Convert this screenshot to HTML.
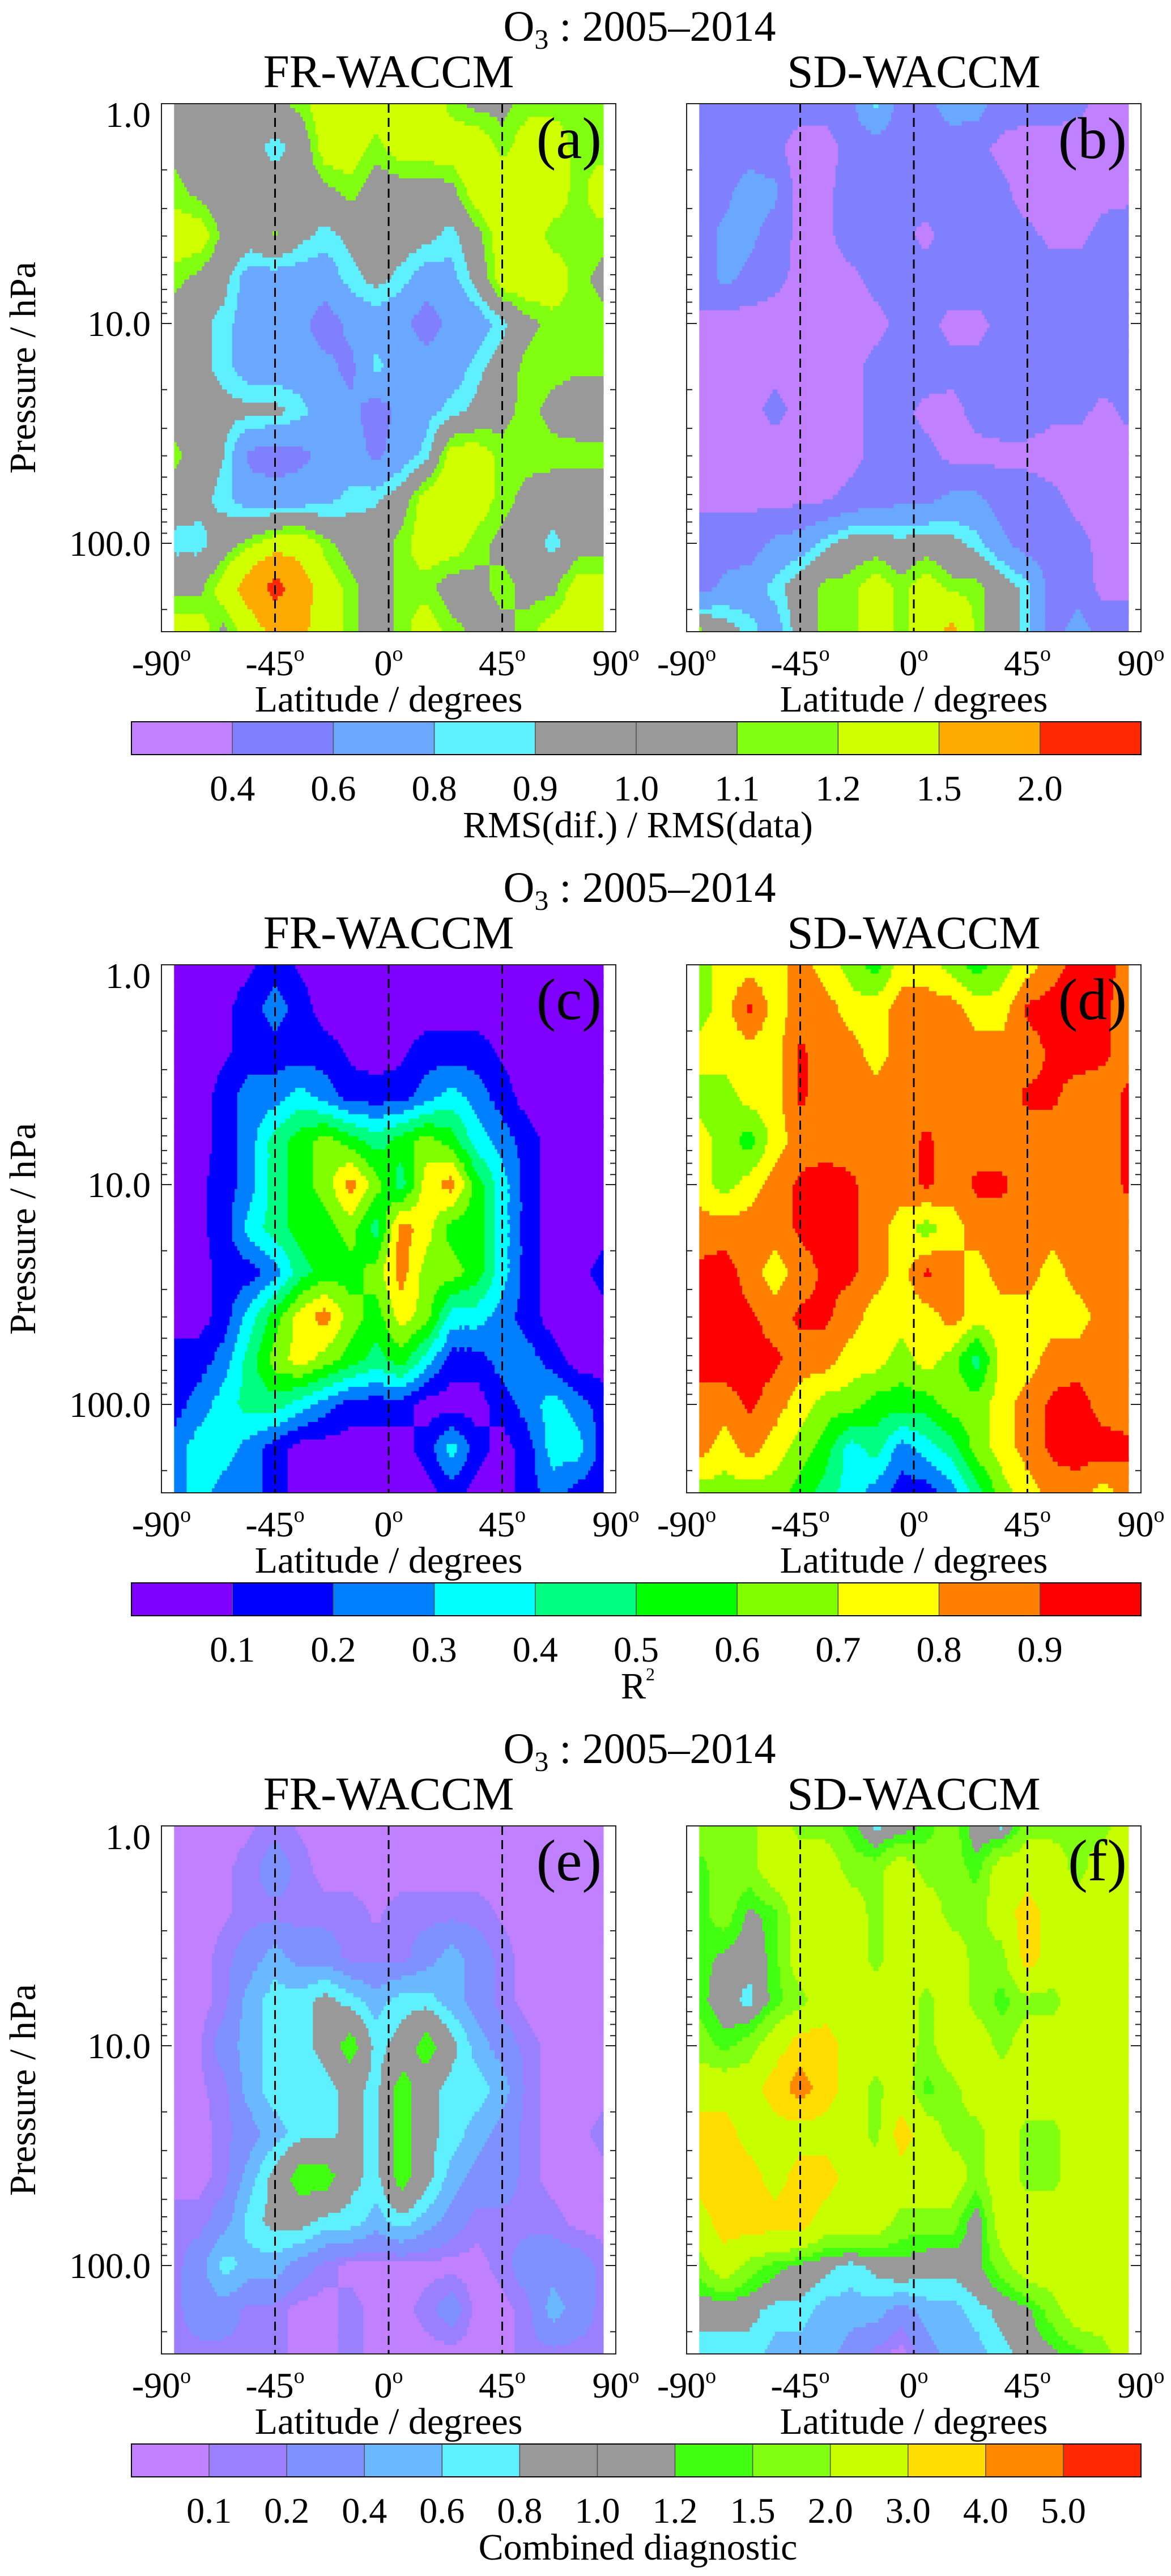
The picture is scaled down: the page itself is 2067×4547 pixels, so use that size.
<!DOCTYPE html>
<html><head><meta charset="utf-8"><title>O3 diagnostics 2005–2014</title>
<style>
html,body{margin:0;padding:0;background:#fff;}
svg{display:block;font-family:"Liberation Serif","DejaVu Serif",serif;}
</style></head>
<body>
<svg id="fig" xmlns="http://www.w3.org/2000/svg" width="2067" height="4547" viewBox="0 0 2067 4547">
<rect x="0" y="0" width="2067" height="4547" fill="#ffffff"/>
</svg>
<script>
const latitudes=[-85,-75,-65,-55,-45,-35,-25,-15,-5,5,15,25,35,45,55,65,75,85];
const pressures=[1,1.585,2.512,3.981,6.31,10,15.85,25.12,39.81,63.1,100,158.5,252];
const latTicks=[-90,-45,0,45,90];
const dashLats=[-45,0,45];
const pressureTicks=[1,10,100];
const pressureTickLabels=["1.0","10.0","100.0"];
const rmsLevels=[0.4,0.6,0.8,0.9,1.0,1.1,1.2,1.5,2.0];
const r2Levels=[0.1,0.2,0.3,0.4,0.5,0.6,0.7,0.8,0.9];
const combLevels=[0.1,0.2,0.4,0.6,0.8,1.0,1.2,1.5,2.0,3.0,4.0,5.0];

const gridA=[
[1.05,1.05,1.05,1.05,1.05,1.15,1.3,1.35,1.3,1.35,1.35,1.15,1.05,1.05,1.15,1.15,1.15,1.15],
[1.05,1.0,1.0,0.95,0.85,0.95,1.3,1.3,1.15,1.3,1.3,1.3,1.35,1.15,1.3,1.3,1.15,1.15],
[1.15,1.05,1.0,1.0,1.0,1.0,1.05,1.15,1.0,1.0,1.0,1.05,1.3,1.35,1.3,1.3,1.15,1.3],
[1.3,1.3,1.05,1.0,1.12,0.95,0.85,0.95,1.0,1.0,0.95,0.85,1.05,1.3,1.3,1.15,1.15,1.15],
[1.15,1.05,0.95,0.7,0.7,0.7,0.7,0.85,0.95,0.85,0.7,0.75,0.95,1.3,1.35,1.3,1.15,1.05],
[1.0,0.95,0.85,0.7,0.7,0.65,0.5,0.65,0.7,0.65,0.5,0.65,0.7,0.85,1.05,1.15,1.15,1.15],
[1.0,0.95,0.85,0.7,0.7,0.7,0.65,0.55,0.85,0.7,0.7,0.7,0.85,1.0,1.15,1.15,1.12,1.12],
[1.0,1.0,0.95,0.95,0.95,0.85,0.7,0.65,0.5,0.65,0.75,0.85,0.95,1.05,1.15,1.05,1.0,1.0],
[1.15,1.0,0.9,0.55,0.5,0.55,0.65,0.7,0.55,0.7,0.85,1.3,1.3,1.15,1.15,1.15,1.15,1.15],
[1.0,0.95,0.85,0.7,0.7,0.7,0.75,0.85,0.88,1.0,1.3,1.35,1.3,1.15,1.05,1.0,1.0,1.0],
[0.85,0.85,1.0,1.15,1.3,1.35,1.15,1.0,1.0,1.15,1.3,1.3,1.15,1.05,1.0,0.85,1.0,1.0],
[1.05,1.05,1.3,1.7,2.2,1.7,1.3,1.15,1.0,1.15,1.15,1.0,1.05,1.15,1.05,1.05,1.3,1.3],
[1.3,1.3,1.05,1.3,1.6,1.6,1.3,1.15,1.0,1.15,1.3,1.15,1.05,1.05,1.15,1.3,1.3,1.3]];

const gridB=[
[0.5,0.5,0.5,0.5,0.5,0.5,0.55,0.85,0.5,0.55,0.7,0.7,0.5,0.5,0.5,0.45,0.35,0.35],
[0.5,0.5,0.5,0.45,0.3,0.3,0.5,0.5,0.5,0.5,0.5,0.45,0.35,0.3,0.3,0.3,0.3,0.3],
[0.5,0.55,0.7,0.65,0.3,0.35,0.5,0.5,0.45,0.5,0.5,0.5,0.45,0.3,0.3,0.3,0.35,0.35],
[0.5,0.65,0.65,0.5,0.35,0.35,0.5,0.5,0.45,0.35,0.5,0.5,0.5,0.45,0.35,0.35,0.45,0.5],
[0.5,0.65,0.55,0.45,0.35,0.3,0.35,0.45,0.5,0.5,0.5,0.5,0.5,0.5,0.5,0.5,0.5,0.5],
[0.35,0.3,0.3,0.3,0.3,0.3,0.3,0.35,0.45,0.45,0.35,0.35,0.45,0.5,0.5,0.5,0.45,0.45],
[0.3,0.3,0.3,0.35,0.3,0.3,0.35,0.45,0.5,0.5,0.45,0.45,0.5,0.5,0.5,0.5,0.5,0.45],
[0.3,0.3,0.35,0.45,0.35,0.3,0.35,0.45,0.45,0.35,0.35,0.45,0.5,0.5,0.45,0.45,0.35,0.45],
[0.3,0.3,0.3,0.3,0.3,0.3,0.35,0.45,0.5,0.45,0.35,0.35,0.35,0.35,0.3,0.3,0.3,0.3],
[0.35,0.35,0.35,0.35,0.35,0.38,0.45,0.5,0.55,0.55,0.65,0.65,0.5,0.5,0.45,0.35,0.35,0.35],
[0.5,0.5,0.5,0.65,0.7,0.85,1.0,1.0,0.95,1.0,0.95,0.85,0.65,0.5,0.5,0.45,0.35,0.35],
[0.5,0.65,0.7,0.85,1.0,1.15,1.15,1.3,1.15,1.3,1.15,1.15,1.0,0.85,0.5,0.5,0.35,0.35],
[1.15,1.0,0.85,0.7,1.0,1.15,1.15,1.3,1.15,1.3,1.6,1.15,1.0,0.85,0.5,0.7,0.5,0.5]];

const gridC=[
[.05,.05,.05,.08,.15,.08,.05,.05,.05,.05,.05,.05,.05,.05,.05,.05,.05,.05],
[.05,.05,.08,.15,.25,.15,.05,.05,.05,.05,.05,.05,.05,.05,.05,.05,.05,.05],
[.05,.05,.08,.15,.15,.15,.15,.08,.05,.08,.15,.15,.15,.08,.05,.05,.05,.05],
[.05,.05,.15,.25,.25,.35,.25,.15,.15,.15,.25,.35,.25,.15,.05,.05,.05,.05],
[.05,.05,.15,.25,.45,.55,.65,.55,.45,.55,.65,.55,.35,.25,.15,.05,.05,.05],
[.05,.08,.15,.25,.45,.55,.65,.85,.65,.45,.75,.85,.55,.35,.15,.05,.05,.05],
[.05,.08,.15,.35,.45,.55,.55,.65,.45,.85,.75,.55,.55,.35,.15,.05,.05,.05],
[.05,.05,.15,.15,.25,.45,.55,.55,.65,.85,.65,.65,.55,.35,.15,.05,.05,.15],
[.05,.05,.15,.35,.55,.75,.85,.65,.55,.75,.65,.35,.35,.25,.15,.05,.05,.05],
[.15,.15,.25,.45,.65,.75,.65,.55,.45,.55,.35,.15,.15,.25,.25,.15,.05,.05],
[.15,.25,.35,.45,.45,.35,.25,.15,.15,.15,.05,.05,.05,.15,.25,.35,.25,.15],
[.25,.35,.35,.25,.15,.05,.05,.05,.05,.05,.15,.35,.15,.05,.15,.35,.35,.15],
[.25,.35,.25,.25,.15,.05,.05,.05,.05,.05,.05,.15,.05,.05,.15,.25,.15,.15]];

const gridD=[
[.65,.75,.75,.75,.85,.75,.65,.55,.75,.75,.65,.55,.65,.75,.85,.95,.95,.85],
[.65,.75,.92,.75,.85,.85,.75,.75,.85,.85,.85,.75,.75,.92,.95,.95,.92,.85],
[.75,.75,.75,.75,.92,.85,.85,.75,.85,.85,.85,.85,.85,.85,.92,.95,.92,.85],
[.65,.65,.75,.75,.92,.85,.85,.85,.85,.85,.85,.85,.85,.92,.92,.85,.85,.92],
[.75,.65,.55,.75,.85,.85,.85,.85,.85,.92,.85,.85,.85,.85,.85,.85,.85,.92],
[.75,.65,.75,.85,.92,.95,.92,.85,.85,.92,.85,.92,.92,.85,.85,.85,.85,.92],
[.85,.85,.85,.85,.92,.95,.92,.85,.75,.65,.75,.85,.85,.85,.85,.85,.85,.85],
[.92,.95,.85,.75,.85,.92,.92,.85,.75,.92,.85,.75,.85,.85,.75,.85,.85,.85],
[.95,.95,.92,.85,.92,.92,.85,.75,.75,.75,.85,.75,.75,.75,.75,.75,.85,.85],
[.95,.95,.95,.92,.85,.85,.75,.75,.65,.75,.65,.45,.75,.75,.85,.85,.85,.85],
[.85,.85,.92,.85,.75,.65,.65,.55,.55,.55,.65,.65,.75,.85,.92,.95,.85,.85],
[.85,.75,.85,.75,.65,.55,.35,.45,.25,.35,.45,.65,.75,.85,.92,.95,.95,.92],
[.65,.65,.65,.65,.55,.45,.35,.25,.15,.15,.25,.45,.65,.75,.85,.85,.75,.85]];

const gridE=[
[.05,.05,.05,.08,.15,.08,.05,.05,.05,.05,.05,.05,.05,.05,.05,.05,.05,.05],
[.05,.05,.08,.15,.3,.15,.05,.05,.05,.05,.05,.05,.05,.05,.05,.05,.05,.05],
[.05,.05,.08,.15,.15,.15,.15,.15,.08,.15,.15,.15,.15,.08,.05,.05,.05,.05],
[.05,.05,.15,.3,.5,.3,.3,.15,.15,.15,.3,.5,.3,.15,.05,.05,.05,.05],
[.05,.05,.15,.5,.7,.7,.9,.7,.5,.7,.7,.5,.3,.15,.05,.05,.05,.05],
[.05,.08,.3,.5,.7,.7,.9,1.4,.7,.9,1.4,.9,.5,.3,.15,.05,.05,.05],
[.05,.08,.15,.5,.7,.7,.7,.9,.7,1.4,.9,.7,.7,.5,.15,.05,.05,.05],
[.05,.05,.15,.3,.5,.7,.7,.9,.7,1.4,.9,.7,.5,.3,.15,.05,.05,.15],
[.05,.05,.15,.5,.9,1.4,1.4,.9,.7,1.4,.9,.5,.3,.3,.15,.05,.05,.05],
[.15,.15,.3,.7,.9,.9,.7,.7,.5,.7,.5,.3,.15,.15,.15,.15,.05,.05],
[.15,.3,.7,.5,.5,.3,.15,.05,.05,.05,.05,.05,.05,.15,.3,.3,.3,.15],
[.15,.3,.3,.15,.15,.05,.05,.15,.05,.05,.15,.3,.05,.05,.15,.5,.3,.15],
[.15,.15,.15,.15,.15,.05,.05,.15,.05,.05,.05,.05,.05,.05,.15,.15,.15,.15]];

const gridF=[
[1.75,1.75,1.75,2.5,1.75,1.75,1.35,.7,.9,1.35,1.75,.9,.7,1.75,1.75,1.75,1.75,2.5],
[1.35,1.75,1.75,2.5,2.5,2.5,1.75,1.75,2.5,1.75,1.75,1.35,2.5,2.5,2.5,1.75,2.5,2.5],
[1.35,1.75,1.1,1.35,2.5,2.5,2.5,1.75,2.5,2.5,1.75,1.75,2.5,3.5,2.5,2.5,2.5,2.5],
[1.35,1.1,.9,1.35,2.5,2.5,2.5,1.75,2.5,2.5,2.5,1.75,1.75,3.5,2.5,2.5,2.5,2.5],
[1.35,.9,.7,1.35,1.75,2.5,2.5,2.5,2.5,1.75,2.5,1.75,1.35,1.75,1.75,2.5,2.5,2.5],
[1.75,1.35,1.75,2.5,3.5,3.5,2.5,2.5,2.5,1.75,2.5,2.5,1.75,2.5,2.5,2.5,2.5,2.5],
[2.5,2.5,2.5,3.5,4.5,3.5,2.5,1.75,2.5,1.35,1.75,2.5,2.5,2.5,2.5,2.5,2.5,2.5],
[3.5,3.5,2.5,2.5,2.5,2.5,2.5,1.75,3.5,2.5,1.75,1.75,2.5,1.75,1.75,2.5,2.5,2.5],
[3.5,3.5,3.5,2.5,3.5,3.5,2.5,2.5,2.5,2.5,2.5,1.75,2.5,1.75,1.75,2.5,2.5,2.5],
[2.5,3.5,3.5,3.5,3.5,2.5,2.5,2.5,1.75,1.75,1.75,.9,2.5,2.5,2.5,2.5,2.5,2.5],
[1.75,2.5,1.75,1.35,1.1,.9,.7,.9,1.1,.9,.9,1.1,1.75,2.5,2.5,2.5,2.5,2.5],
[.9,.9,.9,.7,.7,.5,.5,.5,.3,.5,.5,.7,.9,1.1,1.75,2.5,2.5,2.5],
[.7,.7,.7,.5,.5,.5,.3,.15,.05,.3,.5,.5,.7,.9,1.1,1.35,1.75,2.5]];

const rmsColors=['#c080ff','#8080ff','#6aa8ff','#5ef0ff','#999999','#999999','#80ff10','#d0ff00','#ffaa00','#ff2800'];
const r2Colors=['#7f00ff','#0000ff','#0080ff','#00ffff','#00ff80','#00ff00','#80ff00','#ffff00','#ff8000','#ff0000'];
const combColors=['#c080ff','#9a80ff','#7f90ff','#6ab8ff','#5ef0ff','#999999','#999999','#40ff10','#80ff10','#c8ff00','#ffdd00','#ff8800','#ff2800'];

const NS='http://www.w3.org/2000/svg';
const svg=document.getElementById('fig');
function mk(tag,attrs,parent){const e=document.createElementNS(NS,tag);for(const k in attrs)e.setAttribute(k,attrs[k]);(parent||svg).appendChild(e);return e;}
function levelIndex(v,levels){let i=0;while(i<levels.length&&v>=levels[i])i++;return i;}

const panelCols=[{x0:285,x1:1087},{x0:1212,x1:2014}];
const rowOffsets=[0,1520,3040];
const PY0=183,PY1=1115,DEC=388;

function drawPanel(grid,levels,colors,col,off,label,name){
  const x0=col.x0,x1=col.x1,y0=PY0+off,y1=PY1+off;
  const xs=lat=>x0+(lat+90)*(x1-x0)/180;
  const ys=p=>y0+Math.log10(p)*DEC;
  const g=mk('g',{},svg);
  
  
  const S=10,nr=pressures.length,nc=latitudes.length;
  for(let r=0;r<nr-1;r++){
    const lp0=Math.log10(pressures[r]),lp1=Math.log10(pressures[r+1]);
    for(let b=0;b<S;b++){
      const fy=(b+0.5)/S;
      const yt=y0+(lp0+(lp1-lp0)*b/S)*DEC, yb=y0+(lp0+(lp1-lp0)*(b+1)/S)*DEC;
      let runStart=null,runColor=null;
      const flush=(xe)=>{ if(runColor!==null){const rc=mk('rect',{x:runStart.toFixed(1),y:yt.toFixed(1),width:(xe-runStart+0.8).toFixed(1),height:(yb-yt+0.8).toFixed(1),fill:runColor},g);
        
        } };
      for(let c=0;c<nc-1;c++){
        const la0=latitudes[c],la1=latitudes[c+1];
        for(let a=0;a<S;a++){
          const fx=(a+0.5)/S;
          const v=grid[r][c]*(1-fx)*(1-fy)+grid[r][c+1]*fx*(1-fy)+grid[r+1][c]*(1-fx)*fy+grid[r+1][c+1]*fx*fy;
          const color=colors[levelIndex(v,levels)];
          const xl=xs(la0+(la1-la0)*a/S);
          if(color!==runColor){flush(xl);runStart=xl;runColor=color;}
        }
      }
      flush(xs(latitudes[nc-1]));
    }
  }
  for(const lat of dashLats){
    const d=mk('line',{x1:xs(lat),x2:xs(lat),y1:y0,y2:y1,stroke:'#000','stroke-width':3,'stroke-dasharray':'16 9'},g);
    
    
  }
  const fr=mk('rect',{x:x0,y:y0,width:x1-x0,height:y1-y0,fill:'none',stroke:'#222','stroke-width':2},g);
  
  
  for(let k=0;k<3;k++){for(let m=1;m<10;m++){
    const p=m*Math.pow(10,k);const y=ys(p);if(y>y1)continue;
    const len=m===1?18:10;
    const t1=mk('line',{x1:x0,x2:x0+len,y1:y,y2:y,stroke:'#222','stroke-width':2},g);
    
    
    const t2=mk('line',{x1:x1-len,x2:x1,y1:y,y2:y,stroke:'#222','stroke-width':2},g);
    
    
  }}
  const lb=mk('text',{x:x1-25,y:279+off,'font-size':104,'text-anchor':'end',fill:'#000'},g);
  lb.textContent=label;
  
  
  for(const lat of latTicks){
    const t=mk('text',{x:xs(lat),y:1192+off,'font-size':64,'text-anchor':'middle'},g);
    
    
    const s1=mk('tspan',{},t);s1.textContent=String(lat);
    const s2=mk('tspan',{'font-size':38,dy:-26},t);s2.textContent='o';
  }
  const xt=mk('text',{x:(x0+x1)/2,y:1256+off,'font-size':66,'text-anchor':'middle'},g);
  xt.textContent='Latitude / degrees';
  
  
  return {xs,ys,y0,y1};
}

function drawRow(k,gl,gr,levels,colors,labels,caption,isR2){
  const off=rowOffsets[k];
  const tt=mk('text',{x:1129,y:72+off,'font-size':76,'text-anchor':'middle'});
  
  
  const a1=mk('tspan',{},tt);a1.textContent='O';
  const a2=mk('tspan',{'font-size':50,dy:14},tt);a2.textContent='3';
  const a3=mk('tspan',{dy:-14},tt);a3.textContent=' : 2005–2014';
  const names=['FR-WACCM','SD-WACCM'];
  for(let i=0;i<2;i++){
    const pt=mk('text',{x:(panelCols[i].x0+panelCols[i].x1)/2,y:154+off,'font-size':83,'text-anchor':'middle'});
    pt.textContent=names[i];
    
    
  }
  const L=drawPanel(gl,levels,colors,panelCols[0],off,labels[0],'panel-'+labels[0].replace(/[()]/g,''));
  drawPanel(gr,levels,colors,panelCols[1],off,labels[1],'panel-'+labels[1].replace(/[()]/g,''));
  for(let i=0;i<pressureTicks.length;i++){
    const y=Math.max(L.ys(pressureTicks[i])+22,L.y0+41);
    const t=mk('text',{x:266,y:y,'font-size':64,'text-anchor':'end'});
    t.textContent=pressureTickLabels[i];
    
    
  }
  const yt=mk('text',{x:0,y:0,'font-size':66,'text-anchor':'middle',transform:`translate(62,${649+off}) rotate(-90)`});
  yt.textContent='Pressure / hPa';
  
  
  const cx0=232,cx1=2014,cy0=1274+off,cy1=1332+off;
  const n=levels.length+1,cw=(cx1-cx0)/n;
  const cb=mk('g',{});
  
  
  for(let i=0;i<n;i++){
    const r=mk('rect',{x:cx0+i*cw,y:cy0,width:cw,height:cy1-cy0,fill:colors[i],stroke:'#555','stroke-width':1.5},cb);
    
    
  }
  const ob=mk('rect',{x:cx0,y:cy0,width:cx1-cx0,height:cy1-cy0,fill:'none',stroke:'#000','stroke-width':2},cb);
  
  
  for(let i=0;i<levels.length;i++){
    const t=mk('text',{x:cx0+(i+1)*cw,y:1413+off,'font-size':64,'text-anchor':'middle'},cb);
    t.textContent=levels[i].toFixed(1);
    
    
  }
  const cap=mk('text',{x:1126,y:1478+off,'font-size':66,'text-anchor':'middle'});
  
  
  if(isR2){const c1=mk('tspan',{},cap);c1.textContent='R';const c2=mk('tspan',{'font-size':32,dy:-32},cap);c2.textContent='2';}
  else cap.textContent=caption;
}

drawRow(0,gridA,gridB,rmsLevels,rmsColors,['(a)','(b)'],'RMS(dif.) / RMS(data)',false);
drawRow(1,gridC,gridD,r2Levels,r2Colors,['(c)','(d)'],'R2',true);
drawRow(2,gridE,gridF,combLevels,combColors,['(e)','(f)'],'Combined diagnostic',false);
</script>
</body></html>
